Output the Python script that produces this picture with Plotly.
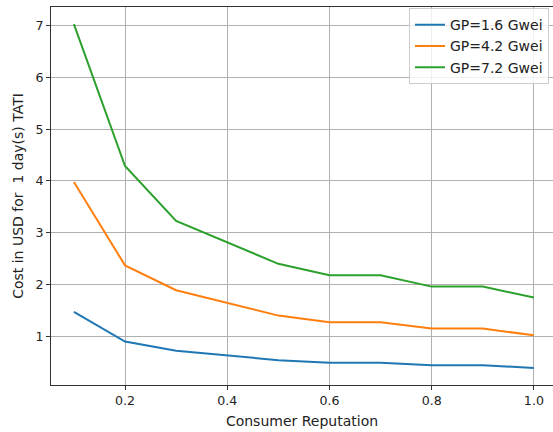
import plotly.graph_objects as go

reputation = [0.1, 0.2, 0.3, 0.4, 0.5, 0.6, 0.7, 0.8, 0.9, 1.0]
cost_gp16 = [1.47, 0.90, 0.72, 0.63, 0.54, 0.49, 0.49, 0.44, 0.44, 0.39]
cost_gp42 = [3.98, 2.37, 1.89, 1.64, 1.40, 1.27, 1.27, 1.15, 1.15, 1.02]
cost_gp72 = [7.03, 4.29, 3.23, 2.82, 2.40, 2.18, 2.18, 1.96, 1.96, 1.75]
series_names = ["GP=1.6 Gwei", "GP=4.2 Gwei", "GP=7.2 Gwei"]
colors = ["#1f77b4", "#ff7f0e", "#2ca02c"]

fig = go.Figure()
for name, ys, c in zip(series_names, [cost_gp16, cost_gp42, cost_gp72], colors):
    fig.add_trace(go.Scatter(x=reputation, y=ys, mode="lines", name=name,
                             line=dict(color=c, width=2)))

FONT = "DejaVu Sans"
axis_common = dict(
    showline=True, linecolor="#333333", linewidth=1, mirror=True,
    showgrid=True, gridcolor="#b0b0b0", gridwidth=1,
    ticks="outside", ticklen=4, tickcolor="#333333",
    tickfont=dict(family=FONT, size=12.6, color="#222222"),
    zeroline=False, automargin=False,
)

fig.update_layout(
    width=553, height=432,
    margin=dict(l=51, r=0, t=7, b=47, autoexpand=False),
    paper_bgcolor="white", plot_bgcolor="white",
    font=dict(family=FONT, size=12.6, color="#222222"),
    showlegend=True,
    legend=dict(x=0.992, y=0.997, xanchor="right", yanchor="top",
                bgcolor="rgba(255,255,255,0.8)", bordercolor="#cccccc", borderwidth=1,
                font=dict(family=FONT, size=14, color="#222222"),
                itemwidth=30, tracegroupgap=0),
    xaxis=dict(range=[0.0552, 1.0374], tickvals=[0.2, 0.4, 0.6, 0.8, 1.0],
               ticktext=["0.2", "0.4", "0.6", "0.8", "1.0"],
               title=dict(text="Consumer Reputation", standoff=9,
                          font=dict(family=FONT, size=14, color="#222222")),
               **axis_common),
    yaxis=dict(range=[0.06, 7.36], tickvals=[1, 2, 3, 4, 5, 6, 7],
               title=dict(text="Cost in USD for  1 day(s) TATI", standoff=8,
                          font=dict(family=FONT, size=14, color="#222222")),
               **axis_common),
)

fig.write_html("out.html", config={"displayModeBar": False},
               post_script="document.body.style.margin='0';")
